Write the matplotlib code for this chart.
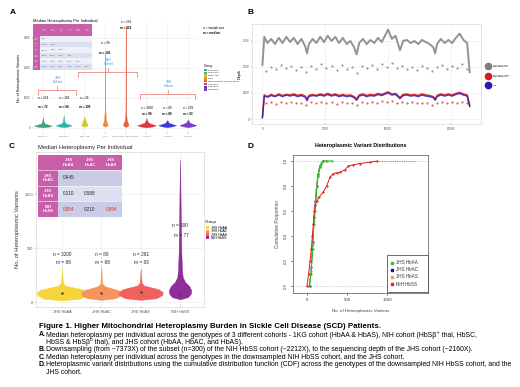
import numpy as np
import matplotlib.pyplot as plt
from matplotlib.patches import Rectangle

plt.rcParams['font.family'] = ['Liberation Sans', 'DejaVu Sans']

# ---------------- data ----------------
# panel A: groups, violin profiles (value, half width), labels
a_groups = ["1KG HbAA", "1KG HbAS", "HbSβ⁺ thal", "HbSC", "HbSS & HbSβ⁰ thal (NIH HbSS)",
            "JHS HbAA", "JHS HbAC", "JHS HbAS"]
a_colors = ["#3FA37C", "#33B3A6", "#CFC93A", "#EC8B3A", "#E8603F", "#D93A3A", "#3A3AD6", "#7B3CC8"]
a_prof_y = [[20, 45, 72, 100, 140, 200, 260, 350],
            [25, 50, 84, 110, 150, 210, 300, 420],
            [40, 70, 109, 150, 220, 300, 400],
            [40, 80, 106, 150, 250, 600, 1200, 2500],
            [30, 70, 118, 170, 250, 500, 1500, 3400],
            [20, 50, 88, 120, 170, 250, 330],
            [25, 55, 88, 120, 170, 260],
            [25, 55, 93, 125, 180, 280]]
a_prof_w = [[0, 0.30, 0.43, 0.30, 0.10, 0.04, 0.02, 0],
            [0, 0.25, 0.38, 0.28, 0.10, 0.04, 0.02, 0],
            [0, 0.12, 0.16, 0.12, 0.08, 0.03, 0],
            [0, 0.10, 0.13, 0.10, 0.05, 0.015, 0.01, 0],
            [0, 0.10, 0.13, 0.10, 0.05, 0.015, 0.008, 0],
            [0, 0.30, 0.45, 0.30, 0.10, 0.03, 0],
            [0, 0.28, 0.42, 0.28, 0.08, 0],
            [0, 0.26, 0.40, 0.26, 0.08, 0]]
a_n = [518, 109, 26, 90, 561, 3200, 89, 291]
a_m = [72, 84, 109, 106, 118, 88, 88, 93]
a_n_y = [1000, 1000, 1000, 2830, 3530, 670, 670, 670]
a_m_y = [700, 700, 700, 2500, 3330, 470, 470, 470]
a_tab_cols = ["1KG\nHbAA", "1KG\nHbAS", "HbSβ⁺\nthal", "HbSC", "NIH\nHbSS", "JHS\nHbAA"]
a_tab_rows = ["1KG\nHbAS", "HbSβ⁺\nthal", "HbSC", "NIH\nHbSS", "JHS\nHbAA", "JHS\nHbAC"]
a_tab_vals = [["0.012"],
              ["<0.001", "0.038"],
              ["<0.001", "0.004", "0.812"],
              ["<0.001", "<0.001", "0.415", "0.207"],
              ["<0.001", "0.236", "0.021", "<0.001", "<0.001"],
              ["<0.001", "0.415", "0.062", "0.008", "<0.001", "0.945"]]

# panel B: depth along mtDNA
b_pos = [0, 150, 400, 700, 1000, 1300, 1600, 1900, 2200, 2500, 2800, 3100, 3400, 3550, 3700,
         4000, 4300, 4600, 4900, 5200, 5500, 5800, 6100, 6400, 6700, 7000, 7300, 7500, 7700, 8000,
         8300, 8600, 8900, 9200, 9500, 9800, 10000, 10300, 10600, 10950, 11200, 11500, 11800, 12100, 12400,
         12700, 13000, 13300, 13600, 13750, 13900, 14200, 14500, 14800, 15100, 15400, 15700, 16000, 16300, 16500]
b_pre = [5200, 7900, 7300, 7700, 7200, 7800, 7300, 7900, 7400, 7800, 7200, 7700, 7000, 6300, 7200,
         7700, 7300, 7900, 7400, 8000, 7500, 7900, 7300, 7800, 7200, 7500, 6900, 6200, 7300, 7700,
         7200, 7600, 7300, 7800, 7400, 8100, 8600, 7700, 8000, 6600, 7500, 7600, 7300, 7500, 7200,
         7600, 7400, 7200, 6900, 6300, 7200, 7700, 7300, 7600, 7300, 7800, 8200, 7600, 7300, 4500]
b_post = [200, 2300, 2150, 2350, 2200, 2400, 2250, 2350, 2300, 2400, 2250, 2350, 2200, 1900, 2250,
          2350, 2250, 2400, 2300, 2450, 2300, 2400, 2250, 2350, 2250, 2300, 2150, 1900, 2300, 2400,
          2250, 2350, 2300, 2450, 2350, 2500, 2600, 2400, 2450, 2050, 2350, 2400, 2300, 2350, 2250,
          2400, 2300, 2250, 2150, 1900, 2250, 2400, 2300, 2400, 2300, 2450, 2550, 2400, 2300, 1300]
b_jhs = [100, 2200, 2100, 2250, 2150, 2300, 2150, 2300, 2200, 2300, 2150, 2250, 2100, 1750, 2150,
         2250, 2200, 2300, 2200, 2350, 2200, 2300, 2150, 2250, 2150, 2200, 2050, 1800, 2200, 2300,
         2150, 2250, 2200, 2350, 2250, 2400, 2500, 2300, 2350, 1950, 2250, 2300, 2200, 2250, 2150,
         2300, 2200, 2150, 2050, 1800, 2150, 2300, 2200, 2300, 2200, 2350, 2450, 2300, 2200, 1200]
b_low_pos = [300, 700, 1100, 1500, 1900, 2300, 2700, 3100, 3500, 3900, 4300, 4700, 5100, 5500,
             5900, 6300, 6700, 7100, 7500, 7900, 8300, 8700, 9100, 9500, 9900, 10300, 10700,
             11100, 11500, 11900, 12300, 12700, 13100, 13500, 13900, 14300, 14700, 15100, 15500, 15900, 16300]
b_pre_low = [4600, 5000, 4800, 5200, 4900, 5100, 4700, 5000, 4500, 5100, 4800, 5300, 4900, 5100,
             4700, 5200, 4800, 5000, 4400, 5100, 4900, 5200, 4800, 5300, 5000, 5400, 4900,
             5100, 4800, 5000, 4700, 5100, 4900, 4600, 5000, 5200, 4800, 5100, 4900, 5300, 4800]
b_post_low = [1500, 1600, 1450, 1650, 1550, 1600, 1500, 1550, 1300, 1600, 1500, 1650, 1550, 1600,
              1450, 1650, 1500, 1550, 1300, 1600, 1550, 1650, 1500, 1700, 1600, 1700, 1500,
              1600, 1550, 1600, 1500, 1550, 1500, 1300, 1550, 1650, 1500, 1600, 1550, 1650, 1500]
b_labels = ["NIH HbSS (Pre-\nDownsampling)", "NIH HbSS (Post-\nDownsampling)", "JHS"]
b_colors = ["#808080", "#D7191C", "#2A1AB0"]

# panel C
c_groups = ["JHS HbAA", "JHS HbAC", "JHS HbAS", "NIH HbSS"]
c_colors = ["#F6D43C", "#F7945D", "#F0605D", "#8E2C9A"]
c_prof_y = [[15, 30, 60, 90, 115, 135, 150, 175, 230, 315],
            [20, 35, 62, 88, 112, 132, 148, 175, 240, 330],
            [20, 35, 65, 93, 118, 138, 152, 178, 235, 310],
            [25, 45, 80, 115, 150, 185, 230, 300, 450, 800, 1100, 1320]]
c_prof_w = [[0, 0.45, 0.62, 0.64, 0.55, 0.30, 0.10, 0.03, 0.015, 0],
            [0, 0.36, 0.50, 0.51, 0.42, 0.22, 0.08, 0.02, 0.012, 0],
            [0, 0.40, 0.55, 0.56, 0.46, 0.25, 0.09, 0.025, 0.012, 0],
            [0, 0.20, 0.28, 0.28, 0.23, 0.13, 0.07, 0.05, 0.035, 0.02, 0.01, 0]]
c_n = [3200, 89, 291, 300]
c_m = [88, 88, 93, 77]
c_n_y = [444, 444, 444, 704]
c_m_y = [370, 370, 370, 620]
c_tab_cols = ["JHS\nHbAA", "JHS\nHbAC", "JHS\nHbAS"]
c_tab_rows = ["JHS\nHbAC", "JHS\nHbAS", "NIH\nHbSS"]
c_tab_vals = [["0.945", "", ""],
              ["0.210", "0.588", ""],
              ["0.054", "0.210", "0.054"]]

# panel D: ECDF
d_labels = ["JHS HbAA", "JHS HbAC", "JHS HbAS", "NIH HbSS"]
d_colors = ["#22C322", "#1010C0", "#F79A4A", "#E0201E"]
d_aa_x = [29, 50, 70, 85, 100, 115, 125, 140, 162, 180, 200, 250, 308]
d_aa_y = [0, 0.1, 0.3, 0.5, 0.6, 0.72, 0.8, 0.88, 0.95, 0.98, 1.0, 1.0, 1.0]
d_ac_x = [32, 55, 72, 90, 105, 120, 140, 160, 200]
d_ac_y = [0, 0.15, 0.35, 0.55, 0.68, 0.8, 0.9, 0.96, 1.0]
d_as_x = [30, 52, 70, 88, 103, 118, 135, 160, 190, 240]
d_as_y = [0, 0.12, 0.33, 0.52, 0.65, 0.78, 0.88, 0.95, 0.99, 1.0]
d_ss_x = [0, 20, 38, 55, 67, 80, 92, 105, 121, 150, 200, 246, 287, 329, 370, 412, 475, 516, 580, 662, 787, 870]
d_ss_y = [0, 0.1, 0.2, 0.3, 0.4, 0.5, 0.6, 0.65, 0.68, 0.71, 0.75, 0.8, 0.87, 0.9, 0.905, 0.91, 0.93, 0.96, 0.97, 0.98, 0.99, 1.0]
d_ss_end = 1350

caption_title = "Figure 1. Higher Mitochondrial Heteroplasmy Burden in Sickle Cell Disease (SCD) Patients."
caption_lines = [("A.", "Median heteroplasmy per individual across the genotypes of 3 different cohorts - 1KG cohort (HbAA & HbAS), NIH cohort (HbSβ⁺ thal, HbSC,"),
                 ("", "HbSS & HbSβ⁰ thal), and JHS cohort (HbAA, HbAC, and HbAS)."),
                 ("B.", "Downsampling (from ~7373X) of the subset (n=300) of the NIH HbSS cohort (~2212X), to the sequencing depth of the JHS cohort (~2160X)."),
                 ("C.", "Median heteroplasmy per individual across the genotypes in the downsampled NIH HbSS cohort, and the JHS cohort."),
                 ("D.", "Heteroplasmic variant distributions using the cumulative distribution function (CDF) across the genotypes of the downsampled NIH HbSS cohort, and the"),
                 ("", "JHS cohort.")]

# ---------------- figure ----------------
W, H = 520, 387
fig = plt.figure(figsize=(5.2, 3.87), dpi=100)


def axes_px(l, t, r, b):
    return fig.add_axes([l / W, 1 - b / H, (r - l) / W, (b - t) / H])


def gg_style(ax, box=False):
    ax.set_facecolor("white")
    ax.grid(True, color="#EBEBEB", lw=0.4)
    ax.set_axisbelow(True)
    for s in ax.spines.values():
        s.set_visible(box)
        s.set_color("#D0D0D0")
        s.set_linewidth(0.4)
    ax.tick_params(length=1, width=0.3, pad=1, colors="#555555")


def violins(ax, ys, ws, colors):
    for i, (yy, ww, c) in enumerate(zip(ys, ws, colors)):
        yy = np.array(yy)
        ww = np.array(ww)
        ax.fill_betweenx(yy, i - ww, i + ww, color=c, lw=0.3, edgecolor=c, zorder=3)


# ---- A ----
axA = axes_px(33, 22, 198, 133)
gg_style(axA)
violins(axA, a_prof_y, a_prof_w, a_colors)
axA.set_xlim(-0.48, 7.49)
axA.set_ylim(-170, 3530)
axA.set_xticks(range(len(a_groups)))
axA.set_xticklabels(a_groups, fontsize=1.35)
axA.set_yticks([0, 1000, 2000, 3000])
axA.set_yticklabels(["0", "1000", "2000", "3000"], fontsize=2.2)
axA.set_ylabel("No. of Heteroplasmic Variants", fontsize=2.6, labelpad=2)
for i in range(len(a_groups)):
    axA.text(i, a_n_y[i], f"n = {a_n[i]}", fontsize=2.2, ha="center", va="center", clip_on=False)
    axA.text(i, a_m_y[i], f"m = {a_m[i]}", fontsize=2.2, ha="center", va="center",
             fontweight="bold", clip_on=False)

# ---- B ----
axB = axes_px(252, 24, 481, 124)
gg_style(axB, box=True)
axB.plot(b_low_pos, b_pre_low, ".", color=b_colors[0], ms=1.2, alpha=0.8)
axB.plot(b_pos, b_pre, "-", color=b_colors[0], lw=1.4, alpha=0.85)
axB.plot(b_low_pos, b_post_low, ".", color=b_colors[1], ms=1.0, alpha=0.8)
axB.plot(b_pos, b_post, "-", color=b_colors[1], lw=1.2, alpha=0.9)
axB.plot(b_pos, b_jhs, "-", color=b_colors[2], lw=1.0, alpha=0.8)
axB.set_xlim(-830, 17400)
axB.set_ylim(-480, 9130)
axB.set_xticks([0, 5000, 10000, 15000])
axB.set_xticklabels(["0", "5000", "10000", "15000"], fontsize=2.2)
axB.set_yticks([0, 2500, 5000, 7500])
axB.set_yticklabels(["0", "2500", "5000", "7500"], fontsize=2.2)
axB.set_ylabel("Depth", fontsize=2.8, labelpad=1)

# ---- C ----
axC = axes_px(36, 152, 204, 307)
gg_style(axC, box=True)
violins(axC, c_prof_y, c_prof_w, c_colors)
for i in range(len(c_groups)):
    axC.plot(i, c_m[i], "o", color="#444444", ms=0.8, zorder=4)
    axC.text(i, c_n_y[i], f"n = {c_n[i]}", fontsize=3.4, ha="center", va="center", color="#222244")
    axC.text(i + 0.03, c_m_y[i], f"m = {c_m[i]}", fontsize=3.4, ha="center", va="center", color="#222244")
axC.set_xlim(-0.66, 3.61)
axC.set_ylim(-46, 1389)
axC.set_xticks(range(len(c_groups)))
axC.set_xticklabels(c_groups, fontsize=2.8)
axC.set_yticks([0, 500, 1000])
axC.set_yticklabels(["0", "500", "1000"], fontsize=2.8)
axC.set_ylabel("No. of Heteroplasmic Variants", fontsize=4.2, labelpad=3, color="#333333")

# ---- D ----
axD = axes_px(293, 155, 428, 293)
axD.axhline(0, color="#999999", lw=0.4, ls=":")
axD.axhline(1, color="#999999", lw=0.4, ls=":")
axD.plot(d_ac_x, d_ac_y, "-", color=d_colors[1], lw=0.7, marker=".", ms=1.2)
axD.plot(d_as_x, d_as_y, "-", color=d_colors[2], lw=0.7, marker=".", ms=1.2)
axD.plot(d_aa_x, d_aa_y, "-", color=d_colors[0], lw=0.8, marker=".", ms=1.2)
axD.plot(d_ss_x, d_ss_y, "-", color=d_colors[3], lw=0.7, marker=".", ms=1.2)
axD.plot([d_ss_x[-1], d_ss_end], [1, 1], ":", color=d_colors[3], lw=0.6)
axD.set_xlim(-175, 1512)
axD.set_ylim(-0.056, 1.048)
axD.set_xticks([0, 500, 1000])
axD.set_xticklabels(["0", "500", "1000"], fontsize=3.2, color="#444444")
axD.set_yticks([0, 0.2, 0.4, 0.6, 0.8, 1.0])
axD.set_yticklabels(["0.0", "0.2", "0.4", "0.6", "0.8", "1.0"], fontsize=3.2, color="#444444",
                    rotation=90, va="center")
axD.tick_params(length=1.5, width=0.4, pad=2)
for s in axD.spines.values():
    s.set_linewidth(0.5)
    s.set_color("#555555")
axD.set_xlabel("No. of Heteroplasmic Variants", fontsize=3.2, labelpad=5, color="#444444")
axD.set_ylabel("Cumulative Proportion", fontsize=3.4, labelpad=3, color="#444444")
axD.set_title("Heteroplasmic Variant Distributions", fontsize=3.9, fontweight="bold", pad=6)

# ---------------- overlay in pixel coords ----------------
ov = fig.add_axes([0, 0, 1, 1])
ov.set_xlim(0, W)
ov.set_ylim(H, 0)
ov.axis("off")
ov.patch.set_alpha(0)

for lab, (x, y) in zip("ABCD", [(13, 12), (250, 12), (12, 147), (251, 147)]):
    ov.text(x, y, lab, fontsize=6, fontweight="bold", ha="center", va="center")

ov.text(33, 21, "Median Heteroplasmy Per Individual", fontsize=2.9, va="center")
ov.text(38, 147, "Median Heteroplasmy Per Individual", fontsize=4.2, va="center", color="#222222")

# A table
pink = "#C95FA8"
x0, hx0, cw, y0, hh, rh = 33, 40, 8.6, 24, 12, 5.6
ov.add_patch(Rectangle((x0, y0), hx0 - x0 + cw * 6, hh, color=pink, lw=0))
ov.add_patch(Rectangle((x0, y0), hx0 - x0, hh + rh * 6, color=pink, lw=0))
for j, c in enumerate(a_tab_cols):
    ov.text(hx0 + cw * (j + 0.5), y0 + hh / 2, c, fontsize=1.4, color="white", ha="center", va="center")
for i, r in enumerate(a_tab_rows):
    yc = y0 + hh + rh * (i + 0.5)
    ov.add_patch(Rectangle((hx0, y0 + hh + rh * i), cw * 6, rh,
                           color="#EEF0F7" if i % 2 == 0 else "#DDE0EE", lw=0))
    ov.text((x0 + hx0) / 2, yc, r, fontsize=1.2, color="white", ha="center", va="center")
    for j, v in enumerate(a_tab_vals[i]):
        ov.text(hx0 + cw * (j + 0.5), yc, v, fontsize=1.3, color="#333355", ha="center", va="center")

# A brackets
br = "#E8746B"
blue_txt = "#3B8ED0"
for (xl, xr, yb, name) in [(38, 76, 90, "1KG"), (78, 137, 72, "NIH"), (140, 195, 94, "JHS")]:
    xm = (xl + xr) / 2
    ov.plot([xl, xr], [yb, yb], color=br, lw=0.5)
    ov.plot([xl, xl], [yb, yb + 5], color=br, lw=0.5)
    ov.plot([xr, xr], [yb, yb + 5], color=br, lw=0.5)
    ov.plot([xm, xm], [yb, yb - 4], color=br, lw=0.5)
    ov.text(xm + 1, yb - 10, f"{name}\nCohort", fontsize=2.3, color=blue_txt, ha="center",
            va="center", linespacing=1.3)

# A legends
ov.text(203, 28, "n = sample size", fontsize=2.2, va="center")
ov.text(203, 33, "m = median", fontsize=2.2, va="center", fontweight="bold")
ov.text(204, 66, "Group", fontsize=2.4, va="center")
for k, (g, c) in enumerate(zip(a_groups, a_colors)):
    yk = 70 + k * 2.8
    ov.add_patch(Rectangle((204, yk - 1.2), 2.5, 2.4, color=c, lw=0))
    ov.text(208, yk, g, fontsize=1.6, va="center")

# B legend
for k, (lab, c) in enumerate(zip(b_labels, b_colors)):
    yk = 66 + k * 9.5
    ov.plot(488, yk, "o", color=c, ms=4.5)
    ov.text(493, yk, lab, fontsize=1.6, va="center", linespacing=1.2)

# C table
cx0, chx, ccw, cy0, chh, crh = 38, 58, 21.3, 155, 15, 15.7
ov.add_patch(Rectangle((cx0, cy0), chx - cx0 + ccw * 3, chh, color=pink, lw=0))
ov.add_patch(Rectangle((cx0, cy0), chx - cx0, chh + crh * 3, color=pink, lw=0))
ov.plot([cx0, chx + ccw * 3], [cy0 + chh, cy0 + chh], color="white", lw=0.4)
for j, c in enumerate(c_tab_cols):
    ov.text(chx + ccw * (j + 0.5), cy0 + chh / 2, c, fontsize=3.0, color="white", ha="center",
            va="center", fontweight="bold", linespacing=1.1)
for i, r in enumerate(c_tab_rows):
    yc = cy0 + chh + crh * (i + 0.5)
    ov.add_patch(Rectangle((chx, cy0 + chh + crh * i), ccw * 3, crh,
                           color="#C9CCE4" if i % 2 == 0 else "#DDE0F0", lw=0))
    ov.plot([cx0, chx + ccw * 3], [cy0 + chh + crh * (i + 1)] * 2, color="white", lw=0.4)
    ov.text((cx0 + chx) / 2, yc, r, fontsize=3.0, color="white", ha="center", va="center",
            fontweight="bold", linespacing=1.1)
    for j, v in enumerate(c_tab_vals[i]):
        col = "#D42C2C" if v == "0.054" else "#222233"
        ov.text(chx + ccw * (j + 0.5), yc, v, fontsize=3.3, color=col, ha="center", va="center")

# C legend
ov.text(205, 222, "Group", fontsize=3.2, va="center")
for k, (g, c) in enumerate(zip(c_groups, c_colors)):
    yk = 227.7 + k * 3.4
    ov.add_patch(Rectangle((206, yk - 1.5), 3, 3, color=c, lw=0))
    ov.text(211, yk, g, fontsize=2.4, va="center")

# D legend
ov.add_patch(Rectangle((387, 255), 41, 37, facecolor="white", edgecolor="#333333", lw=0.5))
for k, (g, c) in enumerate(zip(d_labels, d_colors)):
    yk = 262.7 + k * 7.1
    ov.plot(392, yk, "s", color=c, ms=1.6)
    ov.text(396.5, yk, g, fontsize=3.3, va="center", color="#333333")

# caption
ov.text(39, 327, caption_title, fontsize=5.7, fontweight="bold", va="center")
for k, (tag, line) in enumerate(caption_lines):
    yk = 334.7 + k * 7.5
    if tag:
        ov.text(38.5, yk, tag, fontsize=4.95, fontweight="bold", va="center")
    ov.text(46.5, yk, line, fontsize=4.95, va="center")

fig.savefig("out.png", dpi=100)
